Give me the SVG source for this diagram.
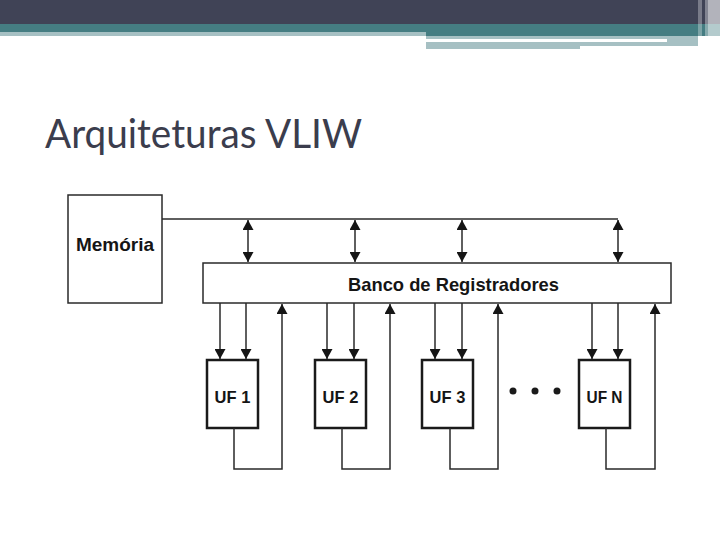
<svg xmlns="http://www.w3.org/2000/svg" width="720" height="540" viewBox="0 0 720 540">
<style>
.ln{fill:none;stroke:#2a2a2a;stroke-width:1.5}
.box{fill:#fff;stroke:#2a2a2a;stroke-width:1.5}
.uf{fill:#fff;stroke:#1a1a1a;stroke-width:2.5}
.lbl{font-family:"Liberation Sans",Arial,sans-serif;font-weight:bold;fill:#151515}
.dot{fill:#1a1a1a}
</style>
<defs>
<marker id="ah" viewBox="0 0 10 11" refX="10" refY="5.5" markerWidth="10" markerHeight="11" markerUnits="userSpaceOnUse" orient="auto-start-reverse">
<path d="M0,0 L10,5.5 L0,11 z" fill="#151515"/>
</marker>
</defs>
<rect width="720" height="540" fill="#fff"/>
<g id="header">
<rect x="0" y="0" width="720" height="24" fill="#404356"/>
<rect x="0" y="24" width="720" height="8" fill="#457d82"/>
<rect x="0" y="32" width="426" height="4" fill="#a6c0c3"/>
<rect x="426" y="32" width="294" height="4" fill="#457d82"/>
<rect x="426" y="36" width="241" height="3" fill="#a6c0c3"/>
<rect x="667" y="36" width="31" height="10" fill="#a6c0c3"/>
<rect x="426" y="42" width="272" height="4" fill="#a6c0c3"/>
<rect x="426" y="46" width="154" height="3" fill="#a6c0c3"/>
<rect x="698" y="0" width="4" height="46" fill="#fff" opacity="0.3"/>
<rect x="705" y="0" width="3" height="46" fill="#fff" opacity="0.35"/>
<rect x="708" y="0" width="2" height="48" fill="#fff" opacity="0.6"/>
<rect x="710" y="0" width="10" height="49" fill="#fff" opacity="0.6"/>
</g>
<text id="title" x="45" y="148" font-family="Lato,'Open Sans',sans-serif" font-size="40" fill="#3b3d4d" textLength="317" lengthAdjust="spacingAndGlyphs">Arquiteturas VLIW</text>
<g id="memoria">
<rect class="box" x="68" y="195" width="94" height="108"/>
<text class="lbl" x="76" y="251" font-size="18.5" textLength="78" lengthAdjust="spacingAndGlyphs">Memória</text>
</g>
<g id="banco">
<rect class="box" x="203" y="263" width="468" height="40"/>
<text class="lbl" x="348" y="291" font-size="18.5" textLength="211" lengthAdjust="spacingAndGlyphs">Banco de Registradores</text>
</g>
<g id="uf1">
<rect class="uf" x="207" y="360" width="51" height="68"/>
<text class="lbl" x="232.5" y="402.5" font-size="16.5" text-anchor="middle">UF 1</text>
</g>
<g id="uf2">
<rect class="uf" x="315" y="360" width="51" height="68"/>
<text class="lbl" x="340.5" y="402.5" font-size="16.5" text-anchor="middle">UF 2</text>
</g>
<g id="uf3">
<rect class="uf" x="422" y="360" width="51" height="68"/>
<text class="lbl" x="447.5" y="402.5" font-size="16.5" text-anchor="middle">UF 3</text>
</g>
<g id="ufn">
<rect class="uf" x="579" y="360" width="51" height="68"/>
<text class="lbl" x="604.5" y="402.5" font-size="16.5" text-anchor="middle" textLength="36" lengthAdjust="spacingAndGlyphs">UF N</text>
</g>
<g id="ellipsis">
<circle class="dot" cx="513" cy="391" r="3.5"/>
<circle class="dot" cx="535" cy="391" r="3.5"/>
<circle class="dot" cx="557" cy="391" r="3.5"/>
</g>
<g id="connectors">
<path class="ln" d="M162,219 H618"/>
<path class="ln" d="M248,220 V262" marker-start="url(#ah)" marker-end="url(#ah)"/>
<path class="ln" d="M355,220 V262" marker-start="url(#ah)" marker-end="url(#ah)"/>
<path class="ln" d="M462,220 V262" marker-start="url(#ah)" marker-end="url(#ah)"/>
<path class="ln" d="M618,220 V262" marker-start="url(#ah)" marker-end="url(#ah)"/>
<path class="ln" d="M220,303 V359" marker-end="url(#ah)"/>
<path class="ln" d="M246,303 V359" marker-end="url(#ah)"/>
<path class="ln" d="M327,303 V359" marker-end="url(#ah)"/>
<path class="ln" d="M354,303 V359" marker-end="url(#ah)"/>
<path class="ln" d="M435,303 V359" marker-end="url(#ah)"/>
<path class="ln" d="M462,303 V359" marker-end="url(#ah)"/>
<path class="ln" d="M592,303 V359" marker-end="url(#ah)"/>
<path class="ln" d="M618,303 V359" marker-end="url(#ah)"/>
<path class="ln" d="M234,428 V469 H282 V304" marker-end="url(#ah)"/>
<path class="ln" d="M342,428 V469 H390 V304" marker-end="url(#ah)"/>
<path class="ln" d="M450,428 V469 H498 V304" marker-end="url(#ah)"/>
<path class="ln" d="M606,428 V469 H655 V304" marker-end="url(#ah)"/>
</g>
</svg>
